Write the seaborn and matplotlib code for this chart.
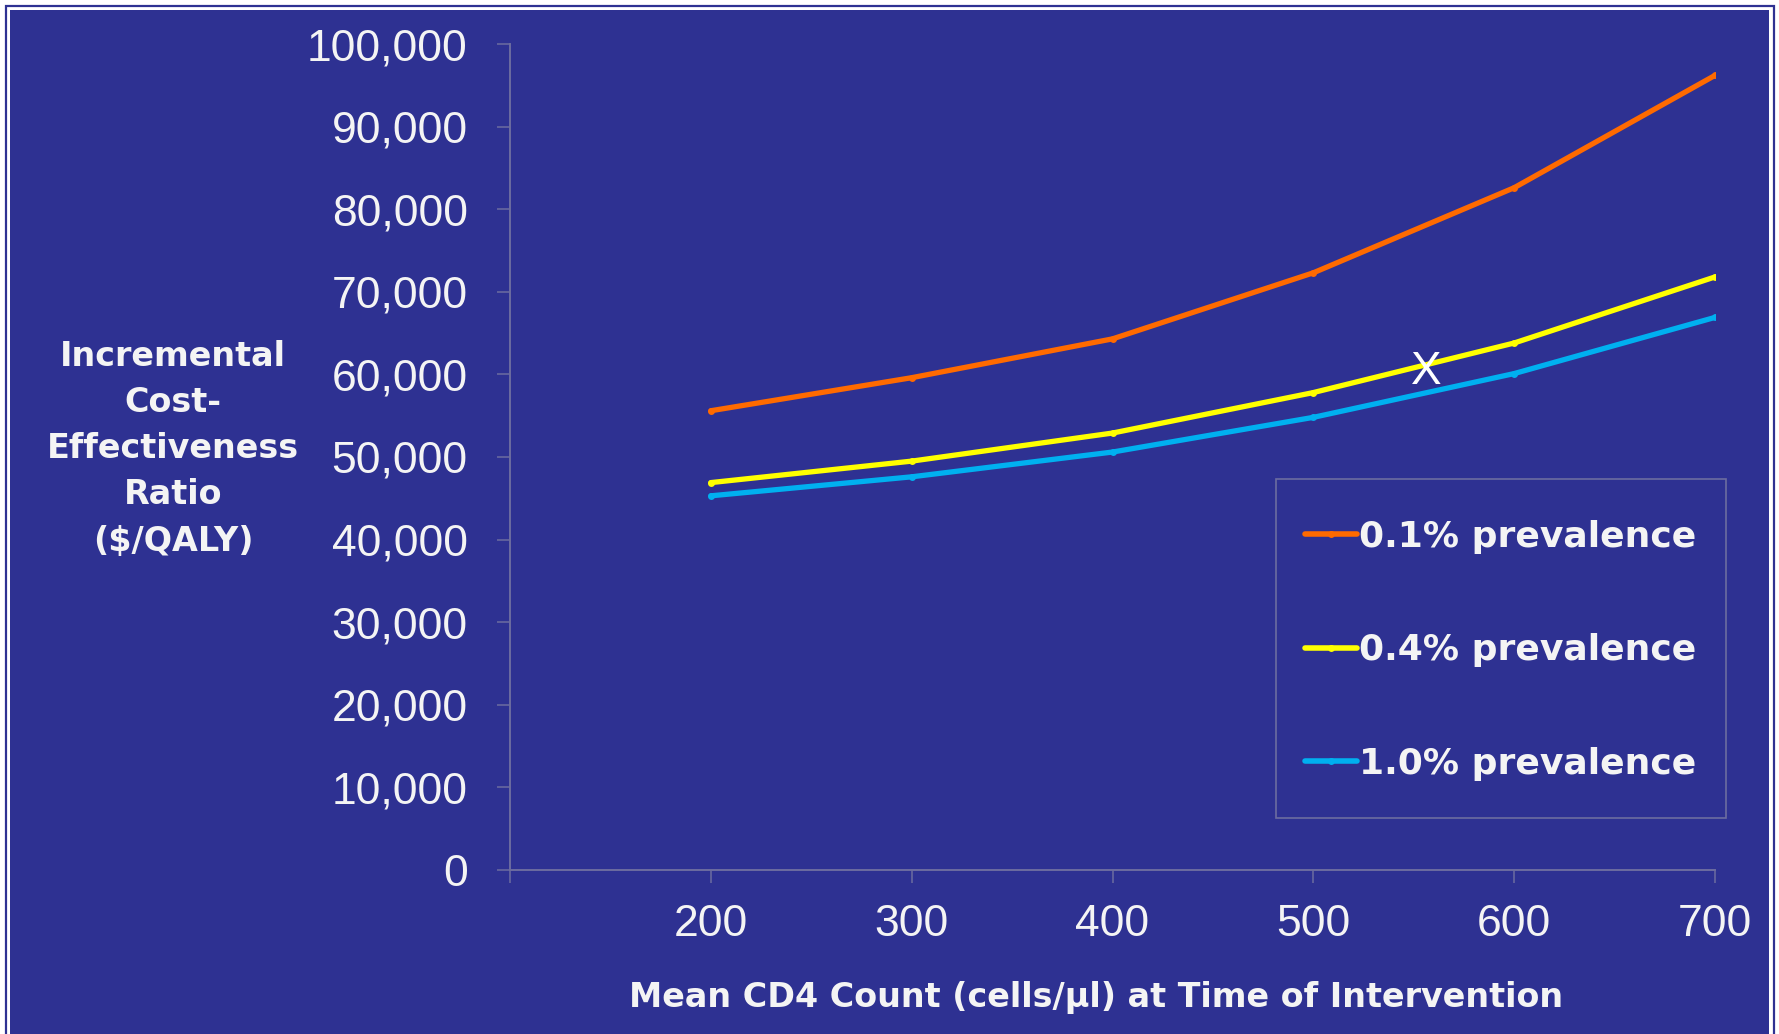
import matplotlib
matplotlib.use("Agg")
import matplotlib.pyplot as plt
from matplotlib.patches import Rectangle
from matplotlib.ticker import FuncFormatter
import seaborn as sns
import pandas as pd

# Mean CD4 count at time of intervention (cells/µl)
cd4 = [200, 300, 400, 500, 600, 700]
# Incremental cost-effectiveness ratio ($/QALY) by HIV prevalence
icer_01 = [55600, 59600, 64300, 72300, 82600, 96200]
icer_04 = [46900, 49500, 52900, 57800, 63800, 71800]
icer_10 = [45300, 47600, 50600, 54800, 60100, 66900]
series_labels = ["0.1% prevalence", "0.4% prevalence", "1.0% prevalence"]
series_colors = ["#FF6A00", "#FFFF00", "#00B0F0"]
y_ticks = list(range(0, 100001, 10000))
x_ticks = [100, 200, 300, 400, 500, 600, 700]
x_tick_labels = ["", "200", "300", "400", "500", "600", "700"]
marked_point = (556, 60300)  # highlighted point on the 0.4% curve

BG = "#2E3192"
AXIS = "#6C6CA0"
TXT = "#F4F4F4"
W, H = 1779, 1034

sns.set_theme(style="white")
plt.rcParams["font.family"] = ["Liberation Sans", "DejaVu Sans"]

df = pd.DataFrame({
    "cd4": cd4 * 3,
    "icer": icer_01 + icer_04 + icer_10,
    "series": [series_labels[0]] * len(cd4)
              + [series_labels[1]] * len(cd4)
              + [series_labels[2]] * len(cd4),
})

fig = plt.figure(figsize=(W / 100, H / 100), dpi=100, facecolor="white")

# slide frame: thin outer line, white gap, then the blue panel
fig.patches.append(Rectangle((5.5 / W, -0.1), (W - 11) / W, 1.1 - 5.5 / H,
                             transform=fig.transFigure, fill=False,
                             edgecolor=BG, linewidth=1.6, zorder=-10))
fig.patches.append(Rectangle((10 / W, -0.1), (W - 20) / W, 1.1 - 10 / H,
                             transform=fig.transFigure, facecolor=BG,
                             edgecolor="none", zorder=-10))
# legend frame
fig.patches.append(Rectangle((1276 / W, (H - 818) / H), 450 / W, 339 / H,
                             transform=fig.transFigure, facecolor=BG,
                             edgecolor=AXIS, linewidth=1.2, zorder=-5))

ax = fig.add_axes([510 / W, (H - 870) / H, (1715 - 510) / W, (870 - 44) / H])
ax.set_zorder(2)
ax.patch.set_alpha(0)

sns.lineplot(data=df, x="cd4", y="icer", hue="series", palette=series_colors,
             hue_order=series_labels, linewidth=3.8, marker="o",
             markersize=5, markeredgewidth=0, ax=ax, legend=True,
             zorder=3)

ax.set_xlim(100, 700)
ax.set_ylim(0, 100000)
ax.set_xticks(x_ticks)
ax.set_xticklabels(x_tick_labels)
ax.set_yticks(y_ticks)
ax.yaxis.set_major_formatter(FuncFormatter(lambda v, p: f"{int(v):,}"))
ax.set_xlabel("")
ax.set_ylabel("")

for side in ["top", "right"]:
    ax.spines[side].set_visible(False)
for side in ["left", "bottom"]:
    ax.spines[side].set_color(AXIS)
    ax.spines[side].set_linewidth(1.4)

ax.tick_params(axis="both", which="major", direction="out", length=9.5,
               width=1.1, color=AXIS, labelcolor=TXT, labelsize=32,
               left=True, bottom=True)
ax.tick_params(axis="y", pad=21)
ax.tick_params(axis="x", pad=15)

# highlighted point
ax.text(marked_point[0], marked_point[1], "X", color="white", fontsize=33,
        ha="center", va="center", zorder=5)

# legend entries (frame drawn separately above)
handles, labels = ax.get_legend_handles_labels()
ax.get_legend().remove()
leg = ax.legend(handles, labels, loc="upper left",
                bbox_to_anchor=(1305 / W, (H - 520) / H),
                bbox_transform=fig.transFigure,
                frameon=False,
                prop={"family": "DejaVu Sans", "weight": "bold", "size": 26},
                handlelength=1.45, handletextpad=0.05, labelspacing=2.2,
                borderpad=0, borderaxespad=0)
for t in leg.get_texts():
    t.set_color(TXT)
for lh in leg.get_lines():
    lh.set_linewidth(4)

# axis titles
fig.text(1096 / W, 1 - 998 / H,
         "Mean CD4 Count (cells/µl) at Time of Intervention",
         color=TXT, fontsize=24, fontweight="bold", family="DejaVu Sans",
         ha="center", va="center")
fig.text(173 / W, 1 - 449 / H,
         "Incremental\nCost-\nEffectiveness\nRatio\n($/QALY)",
         color=TXT, fontsize=24, fontweight="bold", family="DejaVu Sans",
         ha="center", va="center", multialignment="center", linespacing=1.5)

fig.savefig("out.png", dpi=100, facecolor=fig.get_facecolor())
